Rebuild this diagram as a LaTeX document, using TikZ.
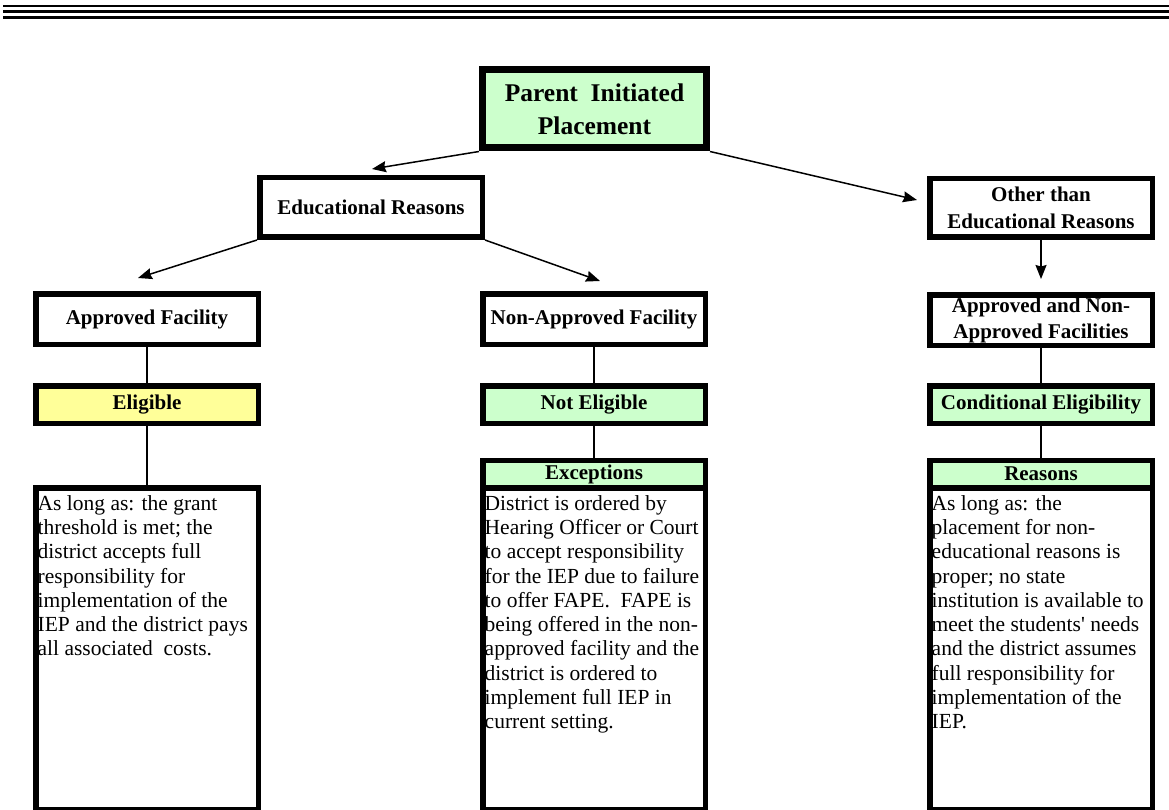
\documentclass[tikz,border=0pt]{standalone}
\usepackage{fontspec}
\setmainfont{Liberation Serif}
\usetikzlibrary{arrows.meta}
\definecolor{palegreen}{HTML}{CCFFCC}
\definecolor{paleyellow}{HTML}{FFFF99}

\begin{document}
\begin{tikzpicture}[x=1pt,y=-1pt]
					\useasboundingbox (0,0) rectangle (1169,810);
					\tikzstyle{box} = [draw=black,line width=5.5pt,inner sep=0pt,align=center,minimum width=222.5pt,font=\bfseries\fontsize{21}{27}\selectfont]
					\tikzstyle{rowtwo} = [minimum height=50.5pt]
					\tikzstyle{rowthree} = [minimum height=37.5pt]
					\tikzstyle{header} = [minimum height=27.5pt]
					\tikzstyle{textbox} = [minimum height=321.5pt]
					\tikzstyle{body} = [anchor=north west,inner sep=0pt,align=left,font=\fontsize{21.5}{24.3}\selectfont]
					\tikzstyle{edge} = [-,line width=1.5pt]
					\tikzstyle{arrow} = [line width=1.5pt,-{Stealth[length=14pt,width=11pt,inset=1.5pt]}]
					\draw[line width=2.5pt] (3,5.8) -- (1169,5.8);
					\draw[line width=3.5pt] (3,11.7) -- (1169,11.7);
					\draw[line width=2.5pt] (3,17.5) -- (1169,17.5);
					\node[box,fill=palegreen,line width=7pt,minimum width=224pt,minimum height=78pt,font=\bfseries\fontsize{25.5}{33}\selectfont] (pip) at (594.5,109) {Parent\ \ Initiated\\Placement};
					\node[box,minimum height=59.5pt] (edr) at (371,207.5) {Educational Reasons};
					\node[box,minimum height=58.5pt] (oer) at (1041,208) {Other than\\Educational Reasons};
					\node[box,rowtwo] (apf) at (147,319) {Approved Facility};
					\node[box,rowtwo] (naf) at (594,319) {Non-Approved Facility};
					\node[box,rowtwo,font=\bfseries\fontsize{21}{26}\selectfont] (anf) at (1041,320) {Approved and Non-\\Approved Facilities};
					\node[box,rowthree,fill=paleyellow] (elg) at (147,404.5) {Eligible};
					\node[box,rowthree,fill=palegreen] (nel) at (594,404.5) {Not Eligible};
					\node[box,rowthree,fill=palegreen] (cel) at (1041,404.5) {Conditional Eligibility};
					\node[box,textbox] (lbx) at (147,648.5) {};
					\node[box,textbox] (mbx) at (594,648.5) {};
					\node[box,textbox] (rbx) at (1041,648.5) {};
					\node[box,header,fill=palegreen] (exc) at (594,474) {Exceptions};
					\node[box,header,fill=palegreen] (rsn) at (1041,474) {Reasons};
					\node[body] (ltx) at ([xshift=4.5pt,yshift=-10pt]lbx.north west) {As long as: the grant\\threshold is met; the\\district accepts full\\responsibility for\\implementation of the\\IEP and the district pays\\all associated\ \ costs.};
					\node[body] (mtx) at ([xshift=4.5pt,yshift=-10pt]mbx.north west) {District is ordered by\\Hearing Officer or Court\\to accept responsibility\\for the IEP due to failure\\to offer FAPE.\ \ FAPE is\\being offered in the non-\\approved facility and the\\district is ordered to\\implement full IEP in\\current setting.};
					\node[body] (rtx) at ([xshift=4.5pt,yshift=-10pt]rbx.north west) {As long as: the\\placement for non-\\educational reasons is\\proper; no state\\institution is available to\\meet the students\textquotesingle\ needs\\and the district assumes\\full responsibility for\\implementation of the\\IEP.};
					\coordinate (pl) at (372,169);
					\coordinate (pr) at (917,200);
					\coordinate (el) at (138,278);
					\coordinate (er) at (600,281);
					\coordinate (od) at (1041,279);
					\draw[arrow] (pip.south west) -- (pl);
					\draw[arrow] (pip.south east) -- (pr);
					\draw[arrow] (edr.south west) -- (el);
					\draw[arrow] (edr.south east) -- (er);
					\draw[arrow] (oer.south) -- (od);
					\draw[edge] (apf) -- (elg);
					\draw[edge] (elg) -- (lbx);
					\draw[edge] (naf) -- (nel);
					\draw[edge] (nel) -- (exc);
					\draw[edge] (anf) -- (cel);
					\draw[edge] (cel) -- (rsn);
					\end{tikzpicture}
\end{document}
